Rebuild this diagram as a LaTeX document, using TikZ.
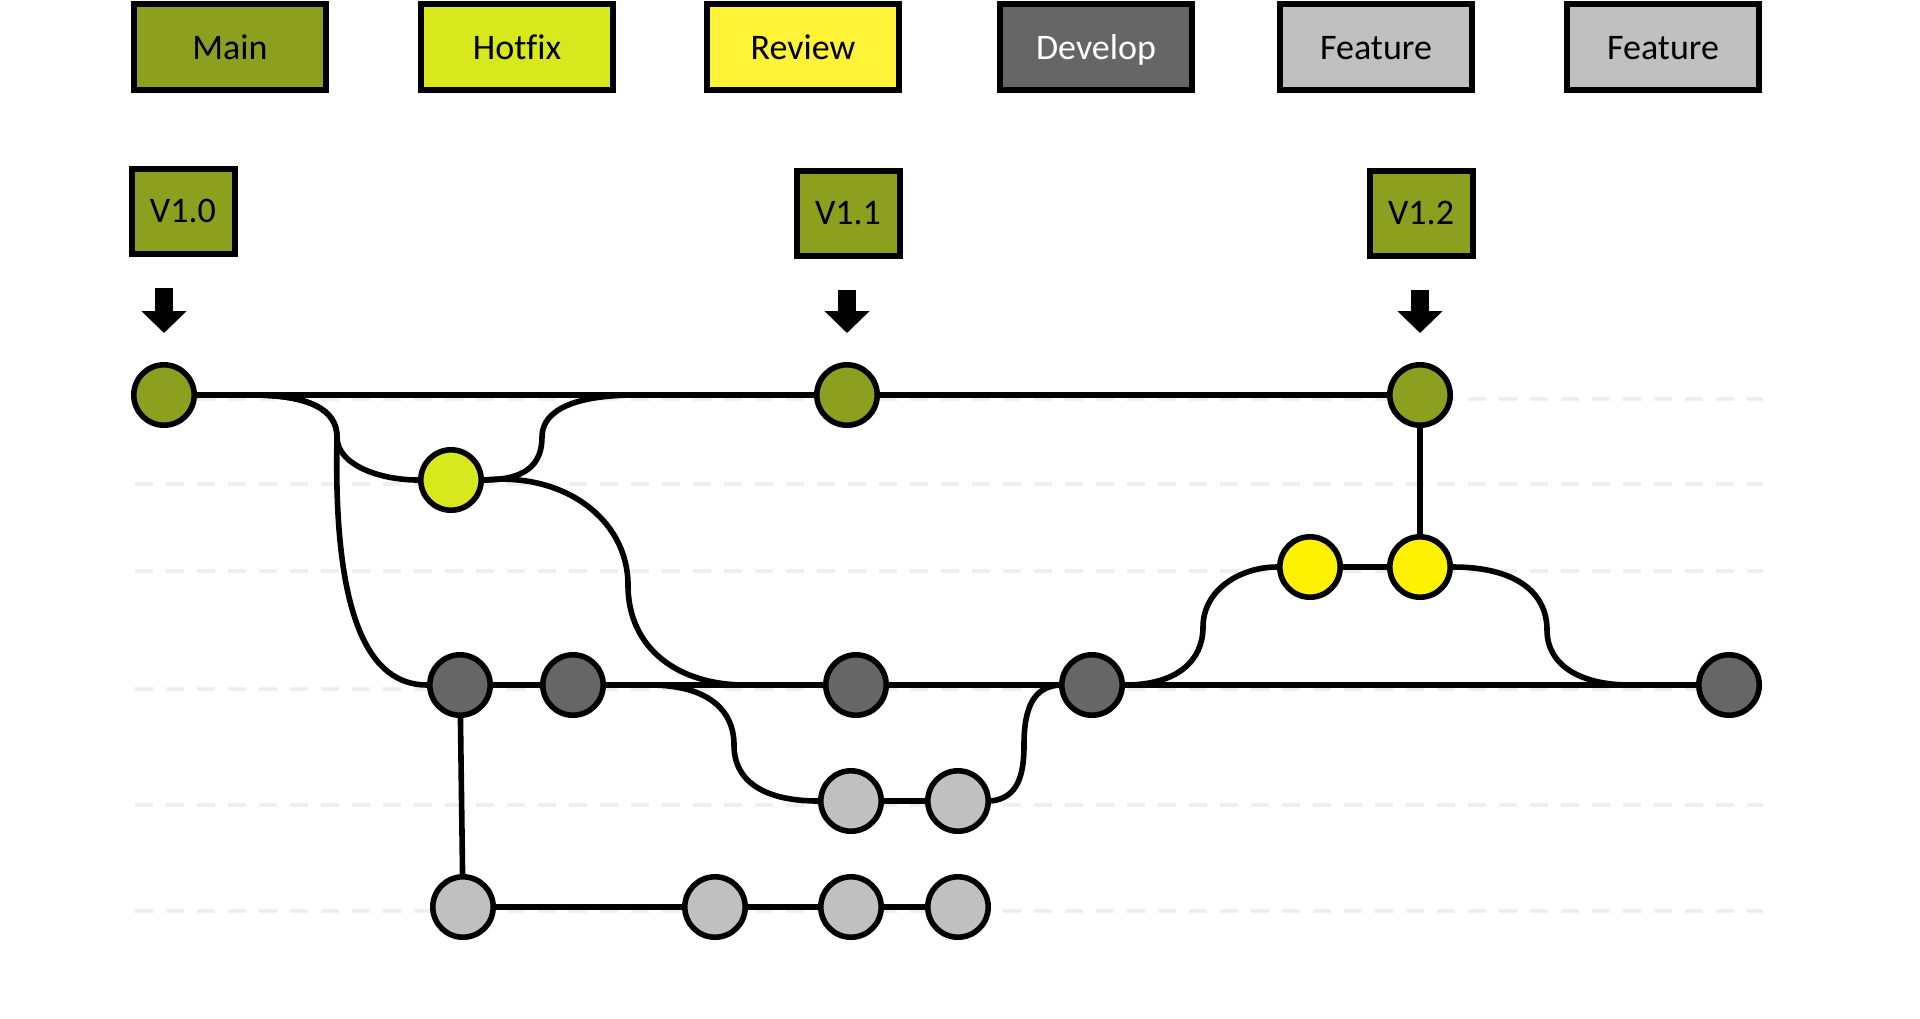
\documentclass[tikz,border=0pt]{standalone}
\usepackage{fontspec}
\setmainfont[Ligatures=NoCommon]{Carlito}
\usetikzlibrary{arrows.meta}
\definecolor{mainColor}{HTML}{8C9F1F}
\definecolor{hotColor}{HTML}{D7E81D}
\definecolor{revColor}{HTML}{FFF338}
\definecolor{revCommit}{HTML}{FFF200}
\definecolor{devColor}{HTML}{666666}
\definecolor{featColor}{HTML}{C0C0C0}
\definecolor{gridColor}{HTML}{EFEFEF}
\tikzset{
	legend/.style={draw, line width=3pt, minimum width=96pt, minimum height=43pt, inner sep=0pt,
		text height=12pt, text depth=0pt, font=\fontsize{18}{20}\selectfont},
	tag/.style={draw, line width=3pt, fill=mainColor, minimum width=51.5pt, minimum height=42.5pt,
		inner sep=0pt, font=\fontsize{18}{20}\selectfont},
	commit/.style={circle, draw, line width=2.8pt, minimum size=30.2pt, inner sep=0pt},
	branch/.style={line width=2.8pt},
	gridline/.style={gridColor, line width=2pt, dash pattern=on 9pt off 6.5pt},
	tagarrow/.style={line width=9pt, -{Triangle[width=22pt,length=11pt]},
		shorten <=15.5pt, shorten >=14.5pt}
}

\begin{document}
\begin{tikzpicture}[x=0.5pt, y=-0.5pt]
	\useasboundingbox (0,0) rectangle (1920,1018);
	% lanes
	\foreach \y in {399,484,571,689,805,911}
		\draw[gridline] (135,\y) -- (1763,\y);
	
	% legend
	\node[legend, fill=mainColor] (lmain) at (230,47) {Main};
	\node[legend, fill=hotColor] (lhot) at (517,47) {Hotfix};
	\node[legend, fill=revColor] (lrev) at (803,47) {Review};
	\node[legend, fill=devColor, text=white] (ldev) at (1096,47) {Develop};
	\node[legend, fill=featColor] (lfeat) at (1376,47) {Feature};
	\node[legend, fill=featColor] (lfeatb) at (1663,47) {Feature};
	
	% tags
	\node[tag] (v10) at (183,211) {V1.0};
	\node[tag] (v11) at (848,213) {V1.1};
	\node[tag] (v12) at (1421,213) {V1.2};
	
	% commits
	\node[commit, fill=mainColor] (m1) at (164,395) {};
	\node[commit, fill=mainColor] (m2) at (847,395) {};
	\node[commit, fill=mainColor] (m3) at (1420,395) {};
	\node[commit, fill=hotColor] (h1) at (451,480) {};
	\node[commit, fill=revCommit] (r1) at (1310,567) {};
	\node[commit, fill=revCommit] (r2) at (1420,567) {};
	\node[commit, fill=devColor] (d1) at (460,685) {};
	\node[commit, fill=devColor] (d2) at (573,685) {};
	\node[commit, fill=devColor] (d3) at (856,685) {};
	\node[commit, fill=devColor] (d4) at (1092,685) {};
	\node[commit, fill=devColor] (d5) at (1729,685) {};
	\node[commit, fill=featColor] (f1) at (851,801) {};
	\node[commit, fill=featColor] (f2) at (958,801) {};
	\node[commit, fill=featColor] (g1) at (463,907) {};
	\node[commit, fill=featColor] (g2) at (715,907) {};
	\node[commit, fill=featColor] (g3) at (851,907) {};
	\node[commit, fill=featColor] (g4) at (958,907) {};
	
	\coordinate (outA) at (252,395);
	\coordinate (inC) at (636,395);
	\coordinate (outE) at (650,685);
	\coordinate (inD) at (745,685);
	\coordinate (inH) at (1630,685);
	
	\draw[tagarrow] (v10.south -| m1) -- (m1.north);
	\draw[tagarrow] (v11.south -| m2) -- (m2.north);
	\draw[tagarrow] (v12.south -| m3) -- (m3.north);
	
	% straight branches
	\draw[branch] (m1) -- (m2) -- (m3);
	\draw[branch] (m3) -- (r2);
	\draw[branch] (r1) -- (r2);
	\draw[branch] (d1) -- (d2) -- (d3) -- (d4) -- (d5);
	\draw[branch] (f1) -- (f2);
	\draw[branch] (d1) -- (g1);
	\draw[branch] (g1) -- (g2) -- (g3) -- (g4);
	
	% merges and forks
	\draw[branch] (outA) .. controls (310,395) and (337,410) .. (337,437)
		.. controls (337,465) and (380,480) .. (h1.west);
	\draw[branch] (outA) .. controls (310,395) and (337,410) .. (337,437)
		.. controls (333,620) and (370,685) .. (d1.west);
	\draw[branch] (h1.east) .. controls (525,480) and (542,465) .. (542,437)
		.. controls (542,410) and (575,395) .. (inC);
	\draw[branch] (h1.east) .. controls (565,472) and (628,520) .. (628,585)
		.. controls (628,650) and (680,685) .. (inD);
	\draw[branch] (outE) .. controls (705,685) and (734,708) .. (734,745)
		.. controls (734,785) and (770,801) .. (f1.west);
	\draw[branch] (f2.east) .. controls (1018,798) and (1024,775) .. (1024,745)
		.. controls (1024,705) and (1035,687) .. (d4.west);
	\draw[branch] (d4.east) .. controls (1178,685) and (1203,660) .. (1203,627)
		.. controls (1203,590) and (1240,567) .. (r1.west);
	\draw[branch] (r2.east) .. controls (1515,567) and (1547,592) .. (1547,630)
		.. controls (1547,665) and (1580,685) .. (inH);
\end{tikzpicture}
\end{document}
